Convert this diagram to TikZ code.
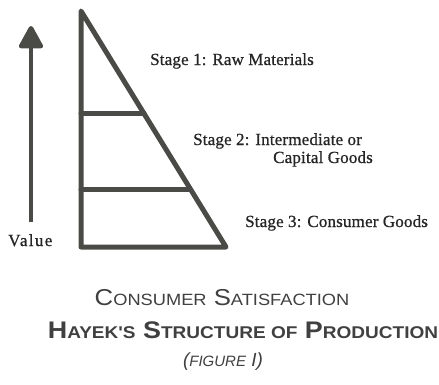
\documentclass[tikz,border=0pt]{standalone}
\usepackage{fontspec}
\setmainfont{Liberation Serif}
\newfontfamily\stagefont[LetterSpace=1,FakeBold=0.8]{Liberation Serif}
\newfontfamily\valuefont[LetterSpace=8,FakeBold=0.8]{Liberation Serif}
\newfontfamily\titlefont[FakeStretch=1.12]{Liberation Sans}
\newfontfamily\figfont{Liberation Sans}
\usetikzlibrary{arrows.meta}
\definecolor{ink}{HTML}{4A4A46}
\definecolor{txt}{HTML}{262626}
\definecolor{ttl}{HTML}{404040}
\begin{document}
\begin{tikzpicture}[x=1pt,y=-1pt,
  bar/.style={draw=ink,line width=5pt,line join=round,line cap=round},
  stagelbl/.style={anchor=base west,inner sep=0pt,text=txt,font=\stagefont\fontsize{17}{20}\selectfont},
  titlelbl/.style={anchor=base,inner sep=0pt,text=ttl}]
\useasboundingbox[fill=white] (0,0) rectangle (439,384);
% triangle
\coordinate (apex) at (81,11);
\coordinate (bl) at (81,247);
\coordinate (br) at (226,247);
\coordinate (l1) at (81,113);
\coordinate (r1) at (144,113);
\coordinate (l2) at (81,189);
\coordinate (r2) at (190,189);
\draw[bar] (apex) -- (br) -- (bl) -- cycle;
\draw[bar] (l1) -- (r1);
\draw[bar] (l2) -- (r2);
% value arrow
\coordinate (vb) at (31,222);
\coordinate (vt) at (31,26);
\draw[draw=ink,fill=ink,line width=4.5pt,-{Triangle[width=26pt,length=25pt,round]}] (vb) -- (vt);
\node[anchor=base west,inner sep=0pt,text=txt,font=\valuefont\fontsize{17}{20}\selectfont] (val) at (8,246) {Value};
% stage labels
\node[stagelbl] (s1) at (150,65) {Stage 1: Raw Materials};
\node[stagelbl] (s2a) at (193,145) {Stage 2: Intermediate or};
\node[stagelbl] (s2b) at (273,163) {Capital Goods};
\node[stagelbl] (s3) at (245,227) {Stage 3: Consumer Goods};
% titles
\node[titlelbl] (t1) at (222,305) {\titlefont\fontsize{23}{26}\selectfont C{\fontsize{16.3}{18}\selectfont ONSUMER} S{\fontsize{16.3}{18}\selectfont ATISFACTION}};
\node[titlelbl] (t2) at (243,338) {\titlefont\bfseries\fontsize{24}{27}\selectfont H{\fontsize{17}{19}\selectfont AYEK'S} S{\fontsize{17}{19}\selectfont TRUCTURE OF} P{\fontsize{17}{19}\selectfont RODUCTION}};
\node[titlelbl] (t3) at (223,366) {\figfont\itshape\fontsize{19}{21}\selectfont ({\fontsize{15}{17}\selectfont FIGURE} I)};
\end{tikzpicture}
\end{document}
